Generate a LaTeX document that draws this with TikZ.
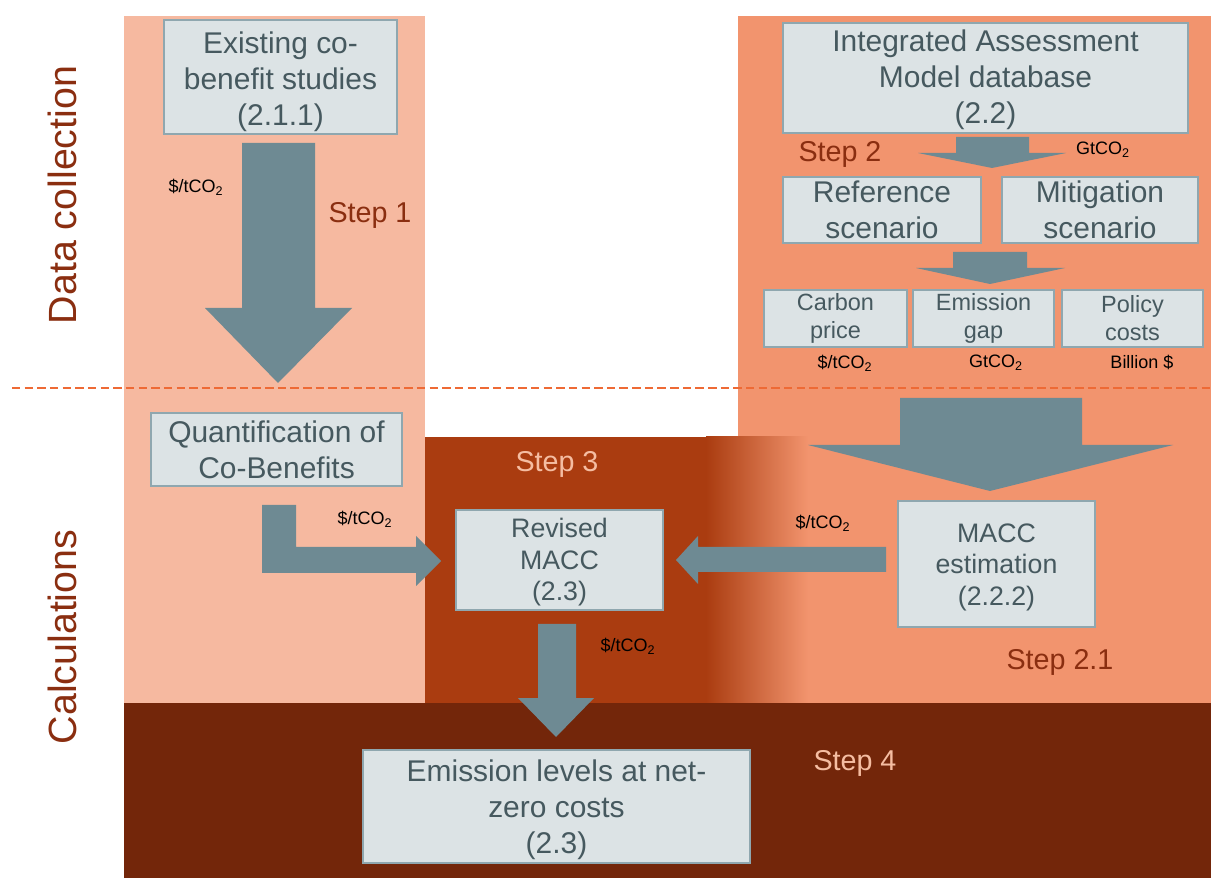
\documentclass[tikz,border=0pt]{standalone}
\usepackage{fontspec}
\setmainfont{Liberation Sans}
\usepackage{tikz}
\usetikzlibrary{shapes,arrows,backgrounds,positioning,fit}

\definecolor{LightPanel}{HTML}{F6B9A0}
\definecolor{RightPanel}{HTML}{F2946E}
\definecolor{StepThree}{HTML}{AA3C10}
\definecolor{StepFour}{HTML}{73260A}
\definecolor{BoxFill}{HTML}{DCE3E5}
\definecolor{BoxLine}{HTML}{8FA7AF}
\definecolor{BoxText}{HTML}{46595F}
\definecolor{ArrowFill}{HTML}{6E8A93}
\definecolor{StepText}{HTML}{8A2E10}
\definecolor{StepPale}{HTML}{F5BDA2}
\definecolor{Divider}{HTML}{EE6A35}

\begin{document}
\begin{tikzpicture}[x=0.025cm, y=-0.025cm]
	\tikzstyle{Box}       = [rectangle, draw=BoxLine, line width=1pt, fill=BoxFill, text=BoxText, align=center, inner sep=0pt, font=\fontsize{21.3}{25.6}\selectfont]
	\tikzstyle{Mid}       = [font=\fontsize{19}{22.5}\selectfont]
	\tikzstyle{Small}     = [font=\fontsize{16.7}{20}\selectfont]
	\tikzstyle{Block}     = [fill=ArrowFill]
	\tikzstyle{Unit}      = [font=\fontsize{12.8}{15}\selectfont, text=black]
	\tikzstyle{StepLabel} = [font=\fontsize{20.4}{24}\selectfont, text=StepText]
	\tikzstyle{Side}      = [rotate=90, font=\fontsize{28}{30}\selectfont, text=StepText]

	\useasboundingbox (0,0) rectangle (1211,878);

	% panels
	\fill[LightPanel] (124,16) rectangle (425,703);
	\fill[RightPanel] (738,16) rectangle (1211,703);
	\fill[StepThree] (425,437) rectangle (706,703);
	\shade[left color=StepThree, right color=RightPanel] (706,437) rectangle (808,703);
	\fill[StepFour] (124,703) rectangle (1211,878);

	\draw[Divider, line width=1.4pt, dash pattern=on 6pt off 3pt] (12,388) -- (1211,388);

	% side labels
	\node[Side] (datacol) at (62,195) {Data collection};
	\node[Side] (calc) at (62,637) {Calculations};

	% boxes
	\node (exist) at (280.5,77) [Box, minimum width=5.825cm, minimum height=2.85cm] {\rule{0pt}{22pt}Existing co-\\benefit studies\\(2.1.1)};
	\node (iam) at (985.5,78) [Box, minimum width=10.125cm, minimum height=2.75cm] {\rule{0pt}{18pt}Integrated Assessment\\Model database\\(2.2)};
	\node (ref) at (882,210) [Box, minimum width=4.95cm, minimum height=1.65cm] {Reference\\scenario};
	\node (mit) at (1100,210) [Box, minimum width=4.9cm, minimum height=1.65cm] {Mitigation\\scenario};
	\node (carbon) at (835.5,318.5) [Box, Small, minimum width=3.575cm, minimum height=1.425cm] {Carbon\\price};
	\node (gap) at (983.5,318.5) [Box, Small, minimum width=3.525cm, minimum height=1.425cm] {Emission\\gap};
	\node (policy) at (1132.5,318.5) [Box, Small, minimum width=3.525cm, minimum height=1.425cm] {Policy\\costs};
	\node (quant) at (276.5,449.5) [Box, minimum width=6.275cm, minimum height=1.825cm] {Quantification of\\Co-Benefits};
	\node (revised) at (559.5,560) [Box, Mid, minimum width=5.175cm, minimum height=2.5cm] {\rule{0pt}{17pt}Revised\\MACC\\(2.3)};
	\node (estim) at (996.5,564) [Box, Mid, minimum width=4.925cm, minimum height=3.15cm] {\rule{0pt}{18pt}MACC\\estimation\\(2.2.2)};
	\node (levels) at (556.5,806.5) [Box, minimum width=9.675cm, minimum height=2.825cm] {\rule{0pt}{20pt}Emission levels at net-\\zero costs\\(2.3)};

	% block arrows
	\fill[Block] (242,143) -- (315,143) -- (315,308) -- (352,308) -- (278,383) -- (205,308) -- (242,308) -- cycle;
	\fill[Block] (956,137) -- (1029,137) -- (1029,153) -- (1066,153) -- (992,168) -- (918,153) -- (956,153) -- cycle;
	\fill[Block] (953,252) -- (1027,252) -- (1027,268) -- (1065,268) -- (990,284) -- (916,268) -- (953,268) -- cycle;
	\fill[Block] (900,398) -- (1082,398) -- (1082,445) -- (1173,445) -- (990,491) -- (808,445) -- (900,445) -- cycle;
	\fill[Block] (262,505) -- (296,505) -- (296,547) -- (416,547) -- (416,536) -- (441,561) -- (416,586) -- (416,573) -- (262,573) -- cycle;
	\fill[Block] (886,547) -- (886,572) -- (698,572) -- (698,584) -- (676,560) -- (698,536) -- (698,547) -- cycle;
	\fill[Block] (538,624) -- (576,624) -- (576,698) -- (594,698) -- (556,737) -- (518,698) -- (538,698) -- cycle;

	% step labels
	\node[StepLabel] (s1) at (370,215) {Step 1};
	\node[StepLabel] (s2) at (840,154) {Step 2};
	\node[StepLabel] (s21) at (1060,662) {Step 2.1};
	\node[StepLabel, text=StepPale] (s3) at (557,464) {Step 3};
	\node[StepLabel, text=StepPale] (s4) at (855,763) {Step 4};

	% units
	\node[Unit] (u1) at (196,187) {\$/tCO\textsubscript{2}};
	\node[Unit] (u2) at (1103,150) {GtCO\textsubscript{2}};
	\node[Unit] (u3) at (845,363) {\$/tCO\textsubscript{2}};
	\node[Unit] (u4) at (996,363) {GtCO\textsubscript{2}};
	\node[Unit] (u5) at (1142,362) {Billion \$};
	\node[Unit] (u6) at (365,519) {\$/tCO\textsubscript{2}};
	\node[Unit] (u7) at (823,523) {\$/tCO\textsubscript{2}};
	\node[Unit] (u8) at (628,646) {\$/tCO\textsubscript{2}};
\end{tikzpicture}
\end{document}
